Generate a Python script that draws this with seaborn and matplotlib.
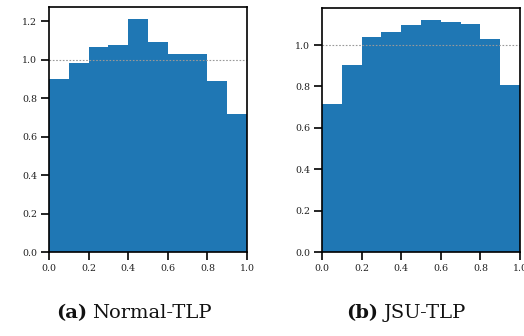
import numpy as np
import pandas as pd
import seaborn as sns
import matplotlib
matplotlib.use("Agg")
import matplotlib.pyplot as plt
from matplotlib.offsetbox import TextArea, HPacker, AnchoredOffsetbox

bin_edges = [0.0, 0.1, 0.2, 0.3, 0.4, 0.5, 0.6, 0.7, 0.8, 0.9, 1.0]
normal_tlp = [0.900, 0.985, 1.067, 1.078, 1.214, 1.093, 1.031, 1.031, 0.889, 0.716]
jsu_tlp = [0.717, 0.906, 1.037, 1.061, 1.095, 1.123, 1.113, 1.100, 1.031, 0.807]
captions = [("(a)", "Normal-TLP"), ("(b)", "JSU-TLP")]
xticks = [0.0, 0.2, 0.4, 0.6, 0.8, 1.0]
yticks_left = [0.0, 0.2, 0.4, 0.6, 0.8, 1.0, 1.2]
yticks_right = [0.0, 0.2, 0.4, 0.6, 0.8, 1.0]

sns.set_style("ticks")
SERIF = ['DejaVu Serif', 'Liberation Serif']
plt.rcParams['font.family'] = SERIF

W, H = 524, 336
fig = plt.figure(figsize=(W / 100, H / 100), dpi=100)

def ax_rect(x0, y0, x1, y1):
    return [x0 / W, 1 - y1 / H, (x1 - x0) / W, (y1 - y0) / H]

panels = [
    (ax_rect(49, 7, 247, 252), normal_tlp, yticks_left),
    (ax_rect(322, 8, 520, 252), jsu_tlp, yticks_right),
]

centers = [(bin_edges[i] + bin_edges[i + 1]) / 2 for i in range(len(bin_edges) - 1)]

for rect, heights, yt in panels:
    ax = fig.add_axes(rect)
    df = pd.DataFrame({"x": centers, "w": heights})
    sns.histplot(data=df, x="x", weights="w", bins=bin_edges, stat="count",
                 color="#1f77b4", alpha=1.0, linewidth=0, ax=ax)
    ax.axhline(1.0, color="#999999", linestyle=(0, (1.5, 1.5)), linewidth=0.8)
    ax.set_xlim(0, 1)
    ax.set_ylim(0, max(heights) * 1.05)
    ax.set_xticks(xticks)
    ax.set_yticks(yt)
    ax.set_xticklabels([f"{t:.1f}" for t in xticks])
    ax.set_yticklabels([f"{t:.1f}" for t in yt])
    ax.set_xlabel("")
    ax.set_ylabel("")
    ax.tick_params(direction="out", length=6, width=1.2, pad=2.5,
                   labelsize=6.8, colors="black", labelcolor="#222222")
    for s in ax.spines.values():
        s.set_visible(True)
        s.set_linewidth(1.2)
        s.set_color("black")

cap_pos = [134, 406]
for (lab, name), cx in zip(captions, cap_pos):
    ta = TextArea(lab, textprops=dict(fontsize=14, fontweight="bold", family=SERIF,
                                      color="#111111"))
    tb = TextArea(name, textprops=dict(fontsize=14, family=SERIF, color="#111111"))
    box = HPacker(children=[ta, tb], align="baseline", pad=0, sep=4)
    ab = AnchoredOffsetbox(loc="center", child=box, pad=0, frameon=False,
                           bbox_to_anchor=(cx / W, 1 - 313 / H),
                           bbox_transform=fig.transFigure, borderpad=0)
    fig.add_artist(ab)

fig.savefig("out.png", dpi=100)
